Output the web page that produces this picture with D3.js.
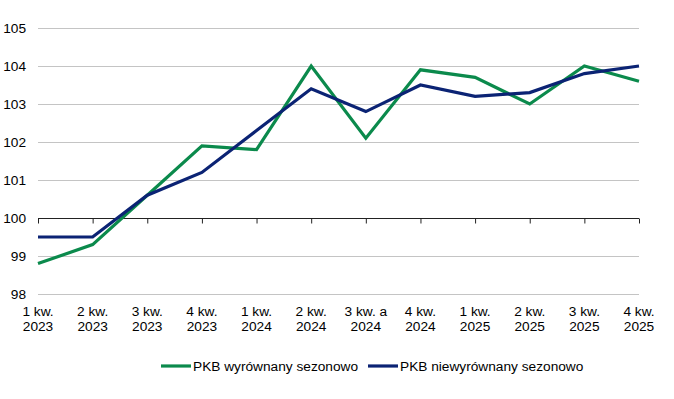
<!DOCTYPE html>
<html>
<head>
<meta charset="utf-8">
<script src="https://cdn.jsdelivr.net/npm/d3@7"></script>
<style>
  body { margin: 0; background: #fff; }
  text { font-family: "Liberation Sans", Arial, sans-serif; fill: #000; }
</style>
</head>
<body>
<svg id="chart"></svg>
<script>
// kwartały (dwie linie etykiety)
const categories = [
  ["1 kw.", "2023"], ["2 kw.", "2023"], ["3 kw.", "2023"], ["4 kw.", "2023"],
  ["1 kw.", "2024"], ["2 kw.", "2024"], ["3 kw. a", "2024"], ["4 kw.", "2024"],
  ["1 kw.", "2025"], ["2 kw.", "2025"], ["3 kw.", "2025"], ["4 kw.", "2025"]
];
const sa = [98.8, 99.3, 100.6, 101.9, 101.8, 104.0, 102.1, 103.9, 103.7, 103.0, 104.0, 103.6];
const nsa = [99.5, 99.5, 100.6, 101.2, 102.3, 103.4, 102.8, 103.5, 103.2, 103.3, 103.8, 104.0];
const yTicks = [98, 99, 100, 101, 102, 103, 104, 105];
const seriesNames = ["PKB wyrównany sezonowo", "PKB niewyrównany sezonowo"];
const colors = ["#0b8a4c", "#0b2374"];

var width = 674, height = 399;
var fs = "13.7px";
var svg = d3.select("#chart").attr("width", width).attr("height", height);

var x = d3.scalePoint().domain(d3.range(categories.length)).range([38, 639]);
var y = d3.scaleLinear().domain([98, 105]).range([294, 28]);

// siatka
svg.append("g").selectAll("line")
  .data(yTicks.filter(d => d !== 100))
  .join("line")
  .attr("x1", 38).attr("x2", 639)
  .attr("y1", d => y(d) + 0.5).attr("y2", d => y(d) + 0.5)
  .attr("stroke", "#c4c4c4").attr("stroke-width", 1);

// oś Y
var yAxis = svg.append("g")
  .call(d3.axisLeft(y).tickValues(yTicks).tickSize(0).tickPadding(0).tickFormat(d3.format("d")))
  .attr("transform", "translate(26,0)");
yAxis.select(".domain").remove();
yAxis.selectAll("text").style("font-size", fs).attr("dy", "0.35em");

// oś X przecina na 100
var xAxis = svg.append("g")
  .attr("transform", "translate(0," + (y(100) + 0.5) + ")")
  .call(d3.axisBottom(x).tickSize(5).tickSizeOuter(0).tickFormat(""));
xAxis.select(".domain").attr("stroke", "#222").attr("d", "M38,0H639");
xAxis.selectAll(".tick line").attr("stroke", "#222");

// etykiety kategorii na dole
var lab = svg.append("g").selectAll("text")
  .data(categories)
  .join("text")
  .attr("text-anchor", "middle")
  .attr("x", (d, i) => x(i))
  .attr("y", 316)
  .style("font-size", fs);
lab.append("tspan").attr("x", (d, i) => x(i)).text(d => d[0]);
lab.append("tspan").attr("x", (d, i) => x(i)).attr("dy", 15).text(d => d[1]);

// linie
var line = d3.line().x((d, i) => x(i)).y(d => y(d));
[sa, nsa].forEach((s, k) => {
  svg.append("path")
    .datum(s)
    .attr("d", line)
    .attr("fill", "none")
    .attr("stroke", colors[k])
    .attr("stroke-width", 3.2)
    .attr("stroke-linejoin", "miter");
});

// legenda
var legX = [161, 368];
var leg = svg.append("g").selectAll("g")
  .data(seriesNames)
  .join("g")
  .attr("transform", (d, i) => "translate(" + legX[i] + ",366)");
leg.append("line").attr("x1", 0).attr("x2", 30).attr("y1", 0).attr("y2", 0)
  .attr("stroke", (d, i) => colors[i]).attr("stroke-width", 3.2);
leg.append("text").attr("x", 32).attr("y", 0).attr("dy", "0.35em")
  .style("font-size", fs).text(d => d);
</script>
</body>
</html>
